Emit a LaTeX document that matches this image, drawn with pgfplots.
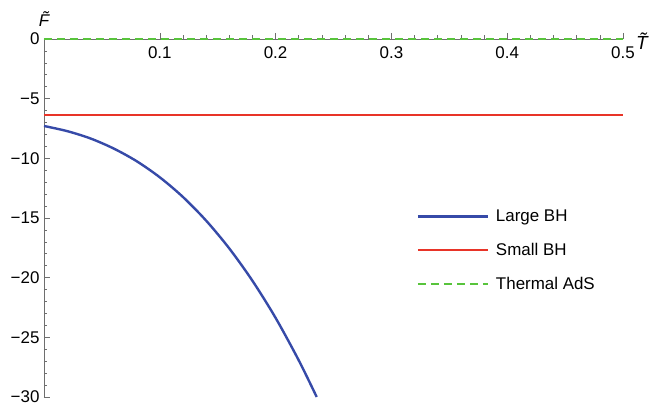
\documentclass[border=0pt]{standalone}
\usepackage{pgfplots}
\pgfplotsset{compat=1.18}
\usepackage{fontspec}
\setmainfont{Liberation Sans}
\definecolor{cblue}{RGB}{54,74,168}
\definecolor{cred}{RGB}{232,52,40}
\definecolor{cgreen}{RGB}{88,196,60}
\definecolor{caxis}{RGB}{110,110,110}
\begin{document}
\begin{tikzpicture}
\begin{axis}[
  scale only axis, width=579bp, height=358bp,
  xmin=0, xmax=0.5, ymin=-30, ymax=0,
  axis x line*=top, axis y line*=left,
  axis line style={caxis, line width=0.8bp},
  font=\fontsize{17}{20}\selectfont,
  xtick={0.1,0.2,0.3,0.4,0.5},
  xticklabels={0.1,0.2,0.3,0.4,0.5},
  ytick={-30,-25,-20,-15,-10,-5,0},
  yticklabels={−30,−25,−20,−15,−10,−5,0},
  minor x tick num=4, minor y tick num=4,
  xtick align=outside, ytick align=inside,
  major tick length=6bp, minor tick length=3.5bp,
  tick style={caxis, line width=0.6bp},
  x tick label style={anchor=north, yshift=-10bp},
  y tick label style={xshift=-1bp},
  xlabel={\textit{\~T}}, ylabel={\textit{\~F}},
  xlabel style={at={(axis description cs:1,1)}, anchor=base west, inner sep=0pt, xshift=13bp, yshift=-11bp, font=\fontsize{19}{22}\selectfont},
  ylabel style={at={(axis description cs:0,1)}, anchor=base, rotate=-90, inner sep=0pt, yshift=12bp, font=\fontsize{17}{20}\selectfont},
  legend style={at={(axis description cs:0.638,0.534)}, anchor=north west, draw=none, fill=none, row sep=16bp, column sep=5bp, font=\fontsize{17}{20}\selectfont},
  legend cell align=left,
  legend image code/.code={\draw[#1, line width=2.4bp] (0bp,0bp) -- (70bp,0bp);},
  clip=false, axis on top=false,
]
\addplot[cblue, line width=2.4bp, smooth] coordinates {
(0,-7.29) (0.02,-7.72) (0.04,-8.33) (0.06,-9.17) (0.08,-10.24) (0.10,-11.59) (0.12,-13.24) (0.14,-15.22) (0.16,-17.55) (0.18,-20.26) (0.20,-23.37) (0.22,-26.93) (0.2355,-30)};
\addlegendentry{Large BH}
\addplot[cred, line width=2.4bp] coordinates {(0,-6.38) (0.5,-6.38)};
\addlegendentry{Small BH}
\addplot[cgreen, line width=2.4bp, dash pattern=on 8bp off 5bp] coordinates {(0,0) (0.5,0)};
\addlegendentry{Thermal AdS}
\end{axis}
\path (current axis.north west) ++(0,39bp);
\path (current axis.south west) ++(-44bp,-9bp);
\path (current axis.north east) ++(26bp,0);
\end{tikzpicture}
\end{document}
